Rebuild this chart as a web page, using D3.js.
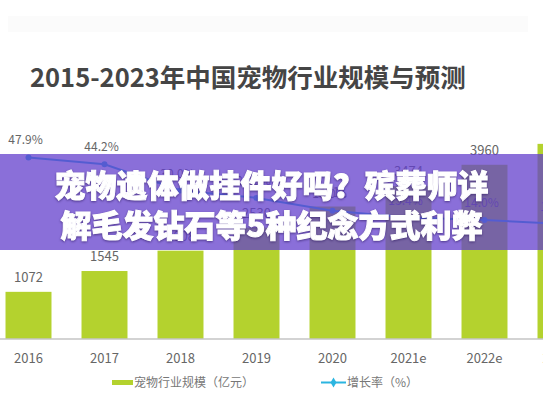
<!DOCTYPE html>
<html>
<head>
<meta charset="utf-8">
<script src="https://cdn.jsdelivr.net/npm/d3@7/dist/d3.min.js"></script>
<style>
  html, body { margin: 0; padding: 0; background: #fff; }
  svg { display: block; font-family: "Noto Sans CJK SC", "Noto Sans", sans-serif; }
</style>
</head>
<body>
<svg id="chart" width="543" height="408"></svg>
<script>
// ---- data ----
const titleText = "2015-2023年中国宠物行业规模与预测";
const years = ["2016", "2017", "2018", "2019", "2020", "2021e", "2022e", "2023e"];
const marketSize = [1072, 1545, 2008, 2530, 3011, 3474, 3960, 4435];   // 亿元
const growthRate = [47.9, 44.2, 30.0, 26.0, 19.0, 15.4, 14.0, 12.0];    // %
const legendLabels = ["宠物行业规模（亿元）", "增长率（%）"];
const bannerLines = ["宠物遗体做挂件好吗？殡葬师详", "解毛发钻石等5种纪念方式利弊"];

// ---- layout ----
const W = 543, H = 408;
const baseY = 339;
const svg = d3.select("#chart");

const x = d3.scaleBand().domain(years).range([-9.5, 598.5])
  .paddingInner(0.395).paddingOuter(0.1975);
const y = d3.scaleLinear().domain([0, 5000]).range([baseY, 119]);
const y2 = d3.scaleLinear().domain([0, 50]).range([246, 153.5]);

const barColor = "#b4d22e";
const lineColor = "#2bb5e0";
const textGray = "#666";

// faint top band
svg.append("rect").attr("x", 8).attr("y", 16).attr("width", 520).attr("height", 16).attr("fill", "#fbfbfb");

// title
svg.append("text")
  .attr("x", 30).attr("y", 87)
  .attr("font-size", 25.5).attr("font-weight", 700)
  .attr("fill", "#454545")
  .text(titleText);

// bars
svg.append("g").selectAll("rect").data(years).join("rect")
  .attr("x", d => x(d))
  .attr("y", (d, i) => y(marketSize[i]))
  .attr("width", x.bandwidth())
  .attr("height", (d, i) => baseY - y(marketSize[i]))
  .attr("fill", barColor);

// bar value labels
svg.append("g").selectAll("text").data(years).join("text")
  .attr("x", d => x(d) + x.bandwidth() / 2)
  .attr("y", (d, i) => y(marketSize[i]) - 10)
  .attr("text-anchor", "middle")
  .attr("font-size", 13).attr("fill", textGray)
  .text((d, i) => marketSize[i]);

// x axis
const xAxis = d3.axisBottom(x).tickSize(0).tickPadding(15);
const gx = svg.append("g").attr("transform", `translate(0,${baseY})`).call(xAxis);
gx.select(".domain").remove();
gx.append("line").attr("x1", 0).attr("x2", W).attr("y1", 0).attr("y2", 0)
  .attr("stroke", "#c4c4c4").attr("stroke-width", 1.5);
gx.selectAll(".tick text")
  .attr("font-size", 13).attr("fill", textGray)
  .attr("font-family", "\"Noto Sans CJK SC\", sans-serif");

// growth line
const line = d3.line()
  .x(d => x(d) + x.bandwidth() / 2)
  .y((d, i) => y2(growthRate[i]));
svg.append("path").datum(years)
  .attr("d", line)
  .attr("fill", "none").attr("stroke", lineColor).attr("stroke-width", 2);
svg.append("g").selectAll("circle").data(years).join("circle")
  .attr("cx", d => x(d) + x.bandwidth() / 2)
  .attr("cy", (d, i) => y2(growthRate[i]))
  .attr("r", 3).attr("fill", lineColor);
svg.append("g").selectAll("text").data(years).join("text")
  .attr("x", d => x(d) + x.bandwidth() / 2 - 3)
  .attr("y", (d, i) => y2(growthRate[i]) - 13)
  .attr("text-anchor", "middle")
  .attr("font-size", 12).attr("fill", textGray)
  .text((d, i) => growthRate[i].toFixed(1) + "%");

// legend
const lg = svg.append("g");
lg.append("rect").attr("x", 112).attr("y", 380).attr("width", 21).attr("height", 5).attr("fill", barColor);
lg.append("text").attr("x", 134).attr("y", 387).attr("font-size", 12).attr("fill", "#777").text(legendLabels[0]);
lg.append("line").attr("x1", 321).attr("x2", 346).attr("y1", 382.5).attr("y2", 382.5)
  .attr("stroke", lineColor).attr("stroke-width", 2);
lg.append("path").attr("d", d3.symbol(d3.symbolDiamond, 30)())
  .attr("transform", "translate(333.5,382.5)").attr("fill", lineColor);
lg.append("text").attr("x", 347).attr("y", 387).attr("font-size", 12).attr("fill", "#777").text(legendLabels[1]);

// overlay banner
svg.append("rect").attr("x", 0).attr("y", 154).attr("width", W).attr("height", 96)
  .attr("fill", "rgb(99,63,204)").attr("fill-opacity", 0.75);
svg.append("g").selectAll("text").data(bannerLines).join("text")
  .attr("x", W / 2)
  .attr("y", (d, i) => 197 + i * 40)
  .attr("text-anchor", "middle")
  .attr("font-size", 31).attr("font-weight", 900)
  .attr("fill", "#fff")
  .attr("stroke", "#fff").attr("stroke-width", 1)
  .style("filter", "drop-shadow(0px 1px 1px rgba(40,20,90,0.6))")
  .text(d => d);
</script>
</body>
</html>
